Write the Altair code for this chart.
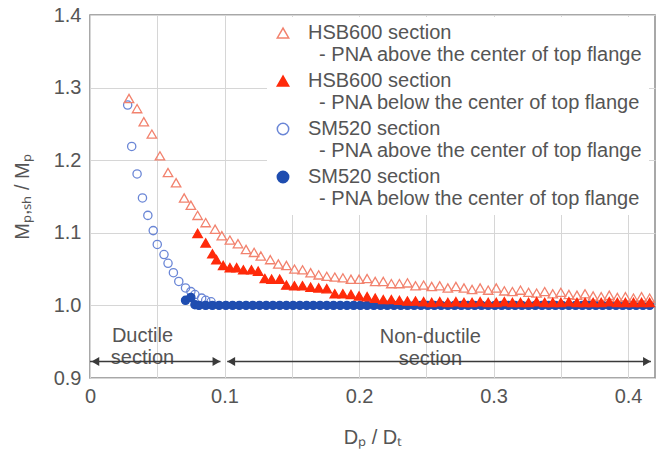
import altair as alt
import pandas as pd

FONT = "Liberation Sans"
TXT = "#555555"

# ---- series names (legend text, '|' = line break; ZWSP keeps the indent from being trimmed) ----
series_names = [
    "HSB600 section|\u200b\u00a0\u00a0- PNA above the center of top flange",
    "HSB600 section|\u200b\u00a0\u00a0- PNA below the center of top flange",
    "SM520 section|\u200b\u00a0\u00a0- PNA above the center of top flange",
    "SM520 section|\u200b\u00a0\u00a0- PNA below the center of top flange",
]

# ---- HSB600, PNA above (open triangles) ----
hsb_above_x = [0.029, 0.035, 0.040, 0.046, 0.052, 0.058, 0.064, 0.070, 0.075, 0.080,
               0.086, 0.093, 0.098, 0.104, 0.110, 0.116, 0.122, 0.127, 0.134, 0.140,
               0.146, 0.152, 0.158, 0.164, 0.170, 0.176, 0.182, 0.188, 0.194, 0.200,
               0.206, 0.212, 0.218, 0.224, 0.230, 0.236, 0.242, 0.248, 0.254, 0.260,
               0.266, 0.272, 0.278, 0.284, 0.290, 0.296, 0.302, 0.308, 0.314, 0.320,
               0.326, 0.332, 0.338, 0.344, 0.350, 0.356, 0.362, 0.368, 0.374, 0.380,
               0.386, 0.392, 0.398, 0.404, 0.410, 0.416]
hsb_above_y = [1.285, 1.271, 1.253, 1.236, 1.206, 1.183, 1.169, 1.148, 1.138, 1.124,
               1.114, 1.105, 1.096, 1.090, 1.085, 1.077, 1.073, 1.068, 1.063, 1.057,
               1.055, 1.050, 1.049, 1.045, 1.042, 1.040, 1.039, 1.038, 1.036, 1.036,
               1.037, 1.033, 1.033, 1.030, 1.030, 1.031, 1.027, 1.028, 1.026, 1.027,
               1.024, 1.026, 1.024, 1.022, 1.024, 1.021, 1.024, 1.020, 1.019, 1.021,
               1.018, 1.017, 1.019, 1.016, 1.018, 1.015, 1.014, 1.016, 1.013, 1.012,
               1.014, 1.011, 1.012, 1.010, 1.012, 1.010]

# ---- HSB600, PNA below (filled triangles) ----
hsb_below_x = [0.080, 0.086, 0.091, 0.094, 0.099, 0.104, 0.109, 0.114, 0.120, 0.125,
               0.130, 0.135, 0.141, 0.146, 0.152, 0.158, 0.164, 0.170, 0.176, 0.182,
               0.188, 0.194, 0.200, 0.206, 0.212, 0.218, 0.224, 0.230, 0.236, 0.242,
               0.248, 0.254, 0.260, 0.266, 0.272, 0.278, 0.284, 0.290, 0.296, 0.302,
               0.308, 0.314, 0.320, 0.326, 0.332, 0.338, 0.344, 0.350, 0.356, 0.362,
               0.368, 0.374, 0.380, 0.386, 0.392, 0.398, 0.404, 0.410, 0.416]
hsb_below_y = [1.099, 1.086, 1.071, 1.063, 1.055, 1.052, 1.052, 1.049, 1.049, 1.047,
               1.037, 1.036, 1.036, 1.028, 1.027, 1.027, 1.025, 1.024, 1.023, 1.016,
               1.016, 1.015, 1.013, 1.012, 1.010, 1.008, 1.008, 1.007, 1.006, 1.006,
               1.005, 1.004, 1.005, 1.004, 1.005, 1.004, 1.004, 1.005, 1.004, 1.004,
               1.005, 1.004, 1.004, 1.004, 1.005, 1.004, 1.004, 1.004, 1.005, 1.004,
               1.004, 1.004, 1.004, 1.005, 1.004, 1.004, 1.004, 1.004, 1.004]

# ---- SM520, PNA above (open circles) ----
sm_above_x = [0.028, 0.031, 0.035, 0.039, 0.043, 0.047, 0.050, 0.055, 0.058, 0.062,
              0.066, 0.071, 0.075, 0.078, 0.083, 0.086, 0.090]
sm_above_y = [1.276, 1.219, 1.181, 1.148, 1.124, 1.103, 1.084, 1.070, 1.058, 1.045,
              1.033, 1.024, 1.019, 1.015, 1.010, 1.007, 1.005]

# ---- SM520, PNA below (filled circles) ----
sm_below_x = [0.071, 0.075, 0.078,
              0.081, 0.086, 0.091, 0.096, 0.101, 0.106, 0.111, 0.116, 0.121, 0.126,
              0.131, 0.136, 0.141, 0.146, 0.151, 0.156, 0.161, 0.166, 0.171, 0.176,
              0.181, 0.186, 0.191, 0.196, 0.201, 0.206, 0.211, 0.216, 0.221, 0.226,
              0.231, 0.236, 0.241, 0.246, 0.251, 0.256, 0.261, 0.266, 0.271, 0.276,
              0.281, 0.286, 0.291, 0.296, 0.301, 0.306, 0.311, 0.316, 0.321, 0.326,
              0.331, 0.336, 0.341, 0.346, 0.351, 0.356, 0.361, 0.366, 0.371, 0.376,
              0.381, 0.386, 0.391, 0.396, 0.401, 0.406, 0.411, 0.416]
sm_below_y = [1.007, 1.011, 1.001,
              1.000, 1.000, 1.000, 1.000, 1.000, 1.000, 1.000, 1.000, 1.000, 1.000,
              1.000, 1.000, 1.000, 1.000, 1.000, 1.000, 1.000, 1.000, 1.000, 1.000,
              1.000, 1.000, 1.000, 1.000, 1.000, 1.000, 1.000, 1.000, 1.000, 1.000,
              1.000, 1.000, 1.000, 1.000, 1.000, 1.000, 1.000, 1.000, 1.000, 1.000,
              1.000, 1.000, 1.000, 1.000, 1.000, 1.000, 1.000, 1.000, 1.000, 1.000,
              1.000, 1.000, 1.000, 1.000, 1.000, 1.000, 1.000, 1.000, 1.000, 1.000,
              1.000, 1.000, 1.000, 1.000, 1.000, 1.000, 1.000, 1.000]

# ---- axis ticks ----
x_ticks = [0.0, 0.05, 0.1, 0.15, 0.2, 0.25, 0.3, 0.35, 0.4]
y_ticks = [0.9, 0.95, 1.0, 1.05, 1.1, 1.15, 1.2, 1.25, 1.3, 1.35, 1.4]

# ---- annotations ----
zone_labels = ["Ductile\nsection", "Non-ductile\nsection"]
zone_label_x = [0.039, 0.253]
zone_label_y = [0.958, 0.957]
arrow_start = [0.0, 0.102]
arrow_end = [0.097, 0.417]
arrow_y = 0.9227
head_left_x = [0.004, 0.105]
head_right_x = [0.094, 0.414]

# ---- style scales ----
shape_range = ["triangle-up", "triangle-up", "circle", "circle"]
stroke_range = ["#f2826e", "#ff2a0a", "#6a86d6", "#1f4db0"]
fill_range = ["transparent", "#ff2a0a", "transparent", "#1f4db0"]
marker_size = {series_names[0]: 90, series_names[1]: 90, series_names[2]: 68, series_names[3]: 66}

frames = []
for name, xs, ys in [
    (series_names[2], sm_above_x, sm_above_y),
    (series_names[3], sm_below_x, sm_below_y),
    (series_names[0], hsb_above_x, hsb_above_y),
    (series_names[1], hsb_below_x, hsb_below_y),
]:
    frames.append(pd.DataFrame({"x": xs, "y": ys, "series": name}))
df = pd.concat(frames, ignore_index=True)
df["msize"] = df["series"].map(marker_size)

xscale = alt.Scale(domain=[0, 0.42], nice=False, zero=False)
yscale = alt.Scale(domain=[0.9, 1.4], nice=False, zero=False)

leg = alt.Legend(title=None, labelExpr="split(datum.label, '|')")

x_axis = alt.Axis(
    values=x_ticks,
    labelExpr="datum.value == 0 ? '0' : (abs(datum.value*10 - round(datum.value*10)) < 0.001 ? format(datum.value, '.1f') : '')",
    grid=True, gridColor="#d6d6d6", gridWidth=1, ticks=False, domain=False,
    labelFontSize=20, labelColor=TXT, labelFont=FONT, labelPadding=8,
    labelFlush=False, labelOverlap=False,
    title="D\u209a / D\u209c", titleFontSize=20, titleFont=FONT, titleColor=TXT,
    titleFontWeight="normal", titleY=59, titleBaseline="middle",
)
y_axis = alt.Axis(
    values=y_ticks,
    labelExpr="abs(datum.value*10 - round(datum.value*10)) < 0.001 ? format(datum.value, '.1f') : ''",
    grid=True, gridColor="#d6d6d6", gridWidth=1, ticks=False, domain=False,
    labelFontSize=20, labelColor=TXT, labelFont=FONT, labelPadding=9,
    labelOverlap=False,
    title="M\u209a,\u209b\u2095 / M\u209a", titleFontSize=20, titleFont=FONT, titleColor=TXT,
    titleFontWeight="normal", titleX=-68, titleBaseline="middle",
)

points = alt.Chart(df).mark_point(opacity=1, strokeWidth=1.3).encode(
    x=alt.X("x:Q", scale=xscale, axis=x_axis),
    y=alt.Y("y:Q", scale=yscale, axis=y_axis),
    shape=alt.Shape("series:N", scale=alt.Scale(domain=series_names, range=shape_range), legend=leg),
    stroke=alt.Stroke("series:N", scale=alt.Scale(domain=series_names, range=stroke_range), legend=leg),
    fill=alt.Fill("series:N", scale=alt.Scale(domain=series_names, range=fill_range), legend=leg),
    size=alt.Size("msize:Q", scale=None),
)

ann_df = pd.DataFrame({"x": zone_label_x, "y": zone_label_y, "label": zone_labels})
ann = alt.Chart(ann_df).mark_text(
    lineBreak="\n", fontSize=20, font=FONT, color=TXT, align="center", baseline="middle", lineHeight=22
).encode(x=alt.X("x:Q", scale=xscale), y=alt.Y("y:Q", scale=yscale), text="label:N")

arr_df = pd.DataFrame({"x": arrow_start, "x2": arrow_end, "y": [arrow_y, arrow_y]})
arrows = alt.Chart(arr_df).mark_rule(color="#3a3a3a", strokeWidth=1.5).encode(
    x=alt.X("x:Q", scale=xscale), x2="x2:Q", y=alt.Y("y:Q", scale=yscale)
)
hl_df = pd.DataFrame({"x": head_left_x, "y": [arrow_y, arrow_y]})
hr_df = pd.DataFrame({"x": head_right_x, "y": [arrow_y, arrow_y]})
heads_left = alt.Chart(hl_df).mark_point(
    filled=True, opacity=1, color="#3a3a3a", size=80, shape="triangle-left"
).encode(x=alt.X("x:Q", scale=xscale), y=alt.Y("y:Q", scale=yscale))
heads_right = alt.Chart(hr_df).mark_point(
    filled=True, opacity=1, color="#3a3a3a", size=80, shape="triangle-right"
).encode(x=alt.X("x:Q", scale=xscale), y=alt.Y("y:Q", scale=yscale))

chart = alt.layer(ann, arrows, heads_left, heads_right, points).properties(
    width=565, height=363,
    autosize=alt.AutoSizeParams(type="none"),
    padding={"left": 90, "top": 15, "right": 7, "bottom": 73},
).configure_view(
    stroke="#8c8c8c", strokeWidth=1.5
).configure_legend(
    orient="none", legendX=177, legendY=2, padding=6, fillColor="white",
    labelFontSize=20, labelFont=FONT, labelColor=TXT, labelLimit=600,
    symbolSize=130, symbolStrokeWidth=1.5, rowPadding=6, labelOffset=15,
)

chart.save("out.html", embed_options={"renderer": "svg", "actions": False})
